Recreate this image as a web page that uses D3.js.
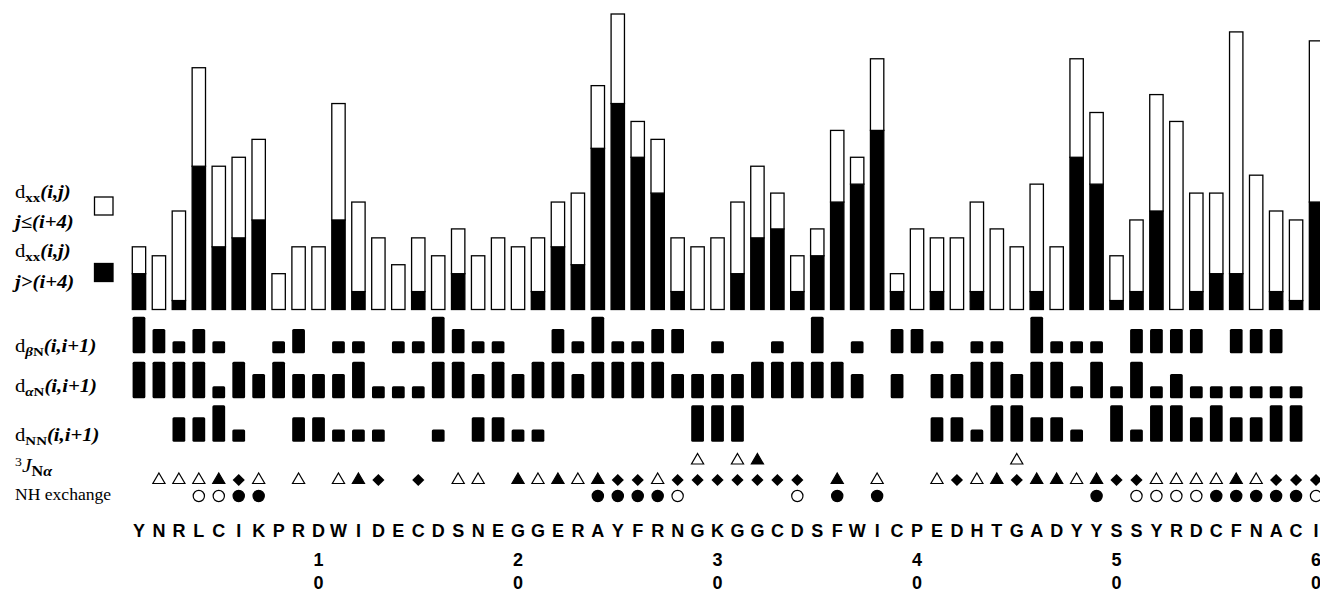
<!DOCTYPE html>
<html>
<head>
<meta charset="utf-8">
<script src="https://cdn.jsdelivr.net/npm/d3@7"></script>
<style>
  html, body { margin: 0; padding: 0; background: #fff; }
  svg { display: block; }
  .lbl { font-family: "Liberation Serif", "Times New Roman", serif; fill: #000; }
  .seq text { font-family: "Liberation Sans", Arial, sans-serif; font-size: 18px; font-weight: bold; fill: #000; }
</style>
</head>
<body>
<svg id="chart" width="1320" height="592"></svg>
<script>
// one letter per residue
const sequence = "YNRLCIKPRDWIDECDSNEGGERAYFRNGKGGCDSFWICPEDHTGADYYSSYRDCFNACI".split("");
const residues = d3.range(1, sequence.length + 1);
const tickResidues = [10, 20, 30, 40, 50, 60];

// NOE counts per residue, filled part: j>(i+4)
const noeLong = [4,0,1,16,7,8,10,0,0,0, 10,2,0,0,2,0,4,0,0,0, 2,7,5,18,23,17,13,2,0,0,
                 4,8,9,2,6,12,14,20,2,0, 2,0,2,0,0,2,0,17,14,1, 2,11,0,2,4,4,0,2,1,12];
// open part: j<=(i+4)
const noeShort = [3,6,10,11,9,9,9,4,7,7, 13,10,8,5,6,6,5,6,8,7, 6,5,8,7,10,4,6,6,7,8,
                  8,8,4,4,3,8,3,8,2,9, 6,8,10,9,7,12,7,11,8,5, 8,13,21,11,9,27,15,9,9,18];

// sequential NOEs: 0 none, 1 weak, 2 medium, 3 strong
const dBN = [3,2,1,2,1,0,0,1,2,0, 1,1,0,1,1,3,2,1,1,0, 0,2,1,3,1,1,2,2,0,1,
             0,0,1,0,3,0,1,0,2,2, 1,0,1,1,0,3,1,1,1,0, 2,2,2,2,0,2,2,2,0,0];
const dAN = [3,3,3,3,1,3,2,3,2,2, 2,3,1,1,1,3,3,2,3,2, 3,3,2,3,3,3,3,2,2,2,
             2,3,3,3,3,3,2,0,2,0, 2,2,3,3,2,3,3,1,3,1, 3,1,2,1,1,1,1,1,1,0];
const dNNrow = [0,0,2,2,3,1,0,0,2,2, 1,1,1,0,0,1,0,2,2,1, 1,0,0,0,0,0,0,0,3,3,
                3,0,0,0,0,0,0,0,0,0, 2,2,1,3,3,2,2,1,0,3, 1,3,3,2,3,2,2,3,3,0];

// 3J(N alpha): o open triangle, f filled triangle, d diamond
const jCoupling = ["","o","o","o","f","d","o","","o","", "o","f","d","","d","","o","o","","f",
                   "o","f","o","f","d","d","o","d","d","d", "d","d","d","d","","f","","o","","",
                   "o","d","o","f","d","f","f","o","f","d", "d","o","o","o","o","f","o","d","d","d"];
const jCouplingUpper = ["","","","","","","","","","", "","","","","","","","","","",
                        "","","","","","","","","o","", "o","f","","","","","","","","",
                        "","","","","o","","","","","", "","","","","","","","","",""];
// NH exchange: o open circle, f filled circle
const nhExchange = ["","","","o","o","f","f","","","", "","","","","","","","","","",
                    "","","","f","f","f","f","o","","", "","","","o","","f","","f","","",
                    "","","","","","","","","f","", "o","o","o","o","f","f","f","f","f","o"];

const svg = d3.select("#chart");

const x = d3.scaleBand().domain(residues).range([129, 1326]).paddingInner(0.33).paddingOuter(0.165);
const y = d3.scaleLinear().domain([0, 33]).range([309.5, 14]);
const bw = x.bandwidth();

// stacked NOE bars
const table = residues.map((r, i) => ({ res: r, long: noeLong[i], short: noeShort[i] }));
const stacked = d3.stack().keys(["long", "short"])(table);

svg.append("g").selectAll("g")
  .data(stacked)
  .join("g")
    .attr("fill", d => d.key === "long" ? "#000" : "#fff")
    .attr("stroke", "#000")
    .attr("stroke-width", 1.3)
  .selectAll("rect")
  .data(d => d.filter(p => p[1] > p[0]))
  .join("rect")
    .attr("x", d => x(d.data.res))
    .attr("y", d => y(d[1]))
    .attr("width", bw)
    .attr("height", d => y(d[0]) - y(d[1]));

// sequential NOE rows
const hScale = d3.scaleLinear().domain([0, 3]).range([0, 36.5]);
const rows = [
  { data: dBN, base: 353.3 },
  { data: dAN, base: 398.3 },
  { data: dNNrow, base: 441.7 }
];
rows.forEach(row => {
  svg.append("g").selectAll("rect")
    .data(residues.filter((r, i) => row.data[i] > 0))
    .join("rect")
      .attr("x", r => x(r) + 0.3)
      .attr("width", bw - 0.6)
      .attr("y", r => row.base - hScale(row.data[r - 1]))
      .attr("height", r => hScale(row.data[r - 1]))
      .attr("rx", 1.5)
      .attr("fill", "#000");
});

// symbol rows
const cx = r => x(r) + bw / 2;
const tri = d3.symbol(d3.symbolTriangle, 64)();
const dia = d3.symbol(d3.symbolSquare, 74)();
const circ = d3.symbol(d3.symbolCircle, 100)();

function symbolRow(codes, yPos, kind) {
  svg.append("g").selectAll("path")
    .data(residues.filter((r, i) => codes[i] !== ""))
    .join("path")
      .attr("d", r => kind === "circle" ? circ : (codes[r - 1] === "d" ? dia : tri))
      .attr("transform", r => `translate(${cx(r)},${yPos})` + (codes[r - 1] === "d" && kind !== "circle" ? " rotate(45)" : ""))
      .attr("fill", r => codes[r - 1] === "o" ? "#fff" : "#000")
      .attr("stroke", "#000")
      .attr("stroke-width", r => codes[r - 1] === "d" ? 0 : 1.2);
}
symbolRow(jCoupling, 480, "j");
symbolRow(jCouplingUpper, 460.5, "j");
symbolRow(nhExchange, 496, "circle");

// sequence as x axis
const axis = d3.axisBottom(x).tickFormat(r => sequence[r - 1]).tickSize(0).tickPadding(0);
const gAxis = svg.append("g").attr("class", "seq").attr("transform", "translate(0,524)").call(axis);
gAxis.select(".domain").remove();
gAxis.selectAll("text").attr("y", 0).attr("dy", "0.71em");

// residue numbers, digits stacked
const nums = svg.append("g").attr("class", "seq");
tickResidues.forEach(r => {
  const t = nums.append("text").attr("text-anchor", "middle");
  String(r).split("").forEach((ch, k) => {
    t.append("tspan").attr("x", cx(r)).attr("y", 566 + k * 23).text(ch);
  });
});

// left labels
const lab = svg.append("g").attr("class", "lbl");
function dLabel(yPos, sub, tail) {
  const t = lab.append("text").attr("transform", `translate(15,${yPos}) scale(1.15,1)`).attr("font-size", 18);
  t.append("tspan").text("d");
  sub.forEach((s, k) => {
    t.append("tspan").attr("font-size", 13).attr("font-weight", "bold")
      .attr("font-style", s.italic ? "italic" : "normal")
      .attr("dy", k === 0 ? 4 : 0).text(s.t);
  });
  t.append("tspan").attr("dy", -4).attr("font-weight", "bold").attr("font-style", "italic").text(tail);
}
function plainLabel(yPos, txt) {
  lab.append("text").attr("transform", `translate(15,${yPos}) scale(1.15,1)`)
    .attr("font-size", 18).attr("font-weight", "bold").attr("font-style", "italic").text(txt);
}
dLabel(198, [{ t: "xx" }], "(i,j)");
plainLabel(228, "j\u2264(i+4)");
dLabel(257, [{ t: "xx" }], "(i,j)");
plainLabel(288, "j>(i+4)");
dLabel(352, [{ t: "\u03b2", italic: true }, { t: "N" }], "(i,i+1)");
dLabel(392, [{ t: "\u03b1", italic: true }, { t: "N" }], "(i,i+1)");
dLabel(441, [{ t: "NN" }], "(i,i+1)");

const jl = lab.append("text").attr("transform", "translate(15,472) scale(1.15,1)").attr("font-size", 19);
jl.append("tspan").attr("font-size", 12).attr("dy", -6).text("3");
jl.append("tspan").attr("dy", 6).attr("font-style", "italic").text("J");
jl.append("tspan").attr("font-size", 14).attr("font-weight", "bold").attr("dy", 4).text("N");
jl.append("tspan").attr("font-size", 14).attr("font-weight", "bold").attr("font-style", "italic").text("\u03b1");

lab.append("text").attr("transform", "translate(15,500) scale(1.1,1)").attr("font-size", 16).text("NH exchange");

// legend squares
const legendKeys = [{ fill: "#fff", yPos: 197 }, { fill: "#000", yPos: 263.5 }];
svg.append("g").selectAll("rect")
  .data(legendKeys)
  .join("rect")
    .attr("x", 94.5).attr("y", d => d.yPos)
    .attr("width", 18.5).attr("height", 18)
    .attr("fill", d => d.fill)
    .attr("stroke", "#000").attr("stroke-width", 1.3);
</script>
</body>
</html>
